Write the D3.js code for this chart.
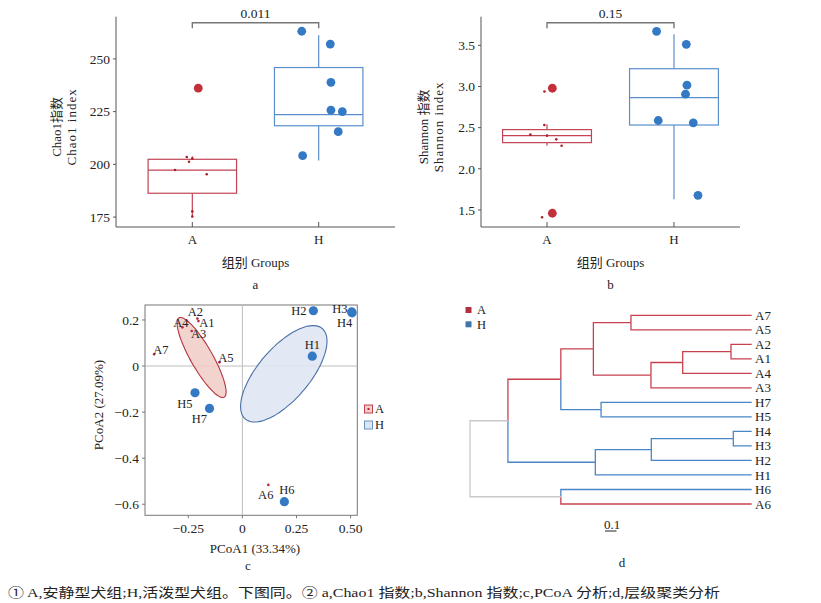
<!DOCTYPE html>
<html>
<head>
<meta charset="utf-8">
<script src="https://d3js.org/d3.v7.min.js"></script>
<style>
  body { margin: 0; background: #fff; }
  text { font-family: "Liberation Serif", "Noto Sans CJK SC", serif; fill: #222; }
</style>
</head>
<body>
<div id="chart"></div>
<script>
// ---- data ----
const groups = ["A", "H"];

// a: Chao1
const chaoQ1 = [186.3, 218.3];
const chaoMed = [197.3, 223.6];
const chaoQ3 = [202.4, 245.9];
const chaoLo = [175.0, 201.8];
const chaoHi = [203.9, 261.2];
const chaoSmallA = [203.5, 201.2, 202.7, 197.3, 195.3, 177.7, 175.3];
const chaoSmallAJit = [-0.044, -0.026, 0, -0.137, 0.114, 0, 0];
const chaoBigA = [236.1];
const chaoBigAJit = [0.047];
const chaoH = [263.1, 257.0, 238.9, 225.7, 225.0, 215.5, 204.1];
const chaoHJit = [-0.134, 0.092, 0.097, 0.097, 0.187, 0.155, -0.127];
const chaoTicks = [175, 200, 225, 250];

// b: Shannon
const shanQ1 = [2.318, 2.532];
const shanMed = [2.403, 2.864];
const shanQ3 = [2.476, 3.216];
const shanLo = [2.28, 1.63];
const shanHi = [2.54, 3.634];
const shanSmallA = [2.532, 2.415, 2.403, 2.358, 2.28, 1.411, 2.94];
const shanSmallAJit = [-0.021, -0.131, 0, 0.073, 0.115, -0.039, -0.02];
const shanBigA = [2.979, 1.46];
const shanBigAJit = [0.042, 0.042];
const shanH = [3.67, 3.512, 3.016, 2.907, 2.587, 2.559, 1.678];
const shanHJit = [-0.137, 0.097, 0.102, 0.091, -0.124, 0.152, 0.189];
const shanTicks = [1.5, 2.0, 2.5, 3.0, 3.5];

// c: PCoA
const pcoaNames = ["A1","A2","A3","A4","A5","A6","A7","H1","H2","H3","H4","H5","H6","H7"];
const pcoaX = [-0.203,-0.208,-0.234,-0.277,-0.106,0.120,-0.408,0.323,0.328,0.505,0.507,-0.219,0.194,-0.152];
const pcoaY = [0.195,0.206,0.152,0.168,0.016,-0.516,0.051,0.043,0.240,0.235,0.231,-0.116,-0.589,-0.184];
const pcoaXTicks = [-0.25, 0, 0.25, 0.5];
const pcoaXTickLabels = ["\u22120.25", "0", "0.25", "0.50"];
const pcoaYTicks = [0.2, 0, -0.2, -0.4, -0.6];
const pcoaYTickLabels = ["0.2", "0", "\u22120.2", "\u22120.4", "\u22120.6"];
// confidence ellipses: centre x, centre y, semi-major, semi-minor, angle (data units / degrees)
const ellA = [-0.1885, 0.0369, 0.2013, 0.050, -58.6];
const ellH = [0.1913, -0.0338, 0.265, 0.116, 47.0];

// d: hierarchical clustering
const dendLeaves = ["A7","A5","A2","A1","A4","A3","H7","H5","H4","H3","H2","H1","H6","A6"];
const dendMerges = [
  ["n1", "A2", "A1", 0.18],
  ["n2", "n1", "A4", 0.60],
  ["n3", "n2", "A3", 0.876],
  ["n4", "A7", "A5", 1.05],
  ["n5", "n4", "n3", 1.377],
  ["n6", "H7", "H5", 1.31],
  ["n7", "n5", "n6", 1.66],
  ["n8", "H4", "H3", 0.16],
  ["n9", "n8", "H2", 0.873],
  ["n10", "n9", "H1", 1.36],
  ["n11", "n7", "n10", 2.12],
  ["n12", "H6", "A6", 1.66],
  ["root", "n11", "n12", 2.45]
];

const RED = "#c3303a", RED_BOX = "#c24454", BLUE = "#3479c4", BLUE_BOX = "#5a8fcc";
const GREY = "#555";
const FS = 13;

const svg = d3.select("#chart").append("svg")
  .attr("width", 821).attr("height", 603)
  .style("background", "#fff");

// ---- boxplot panel ----
function boxPanel(o) {
  const g = svg.append("g");
  const x = d3.scalePoint().domain(groups).range([o.left, o.right]).padding(o.pad);
  const y = d3.scaleLinear().domain(o.domain).range([o.bottom, o.top]);
  const step = x.step();
  const bw = step * 0.7;
  const cols = [RED_BOX, BLUE_BOX];

  // axes
  g.append("line").attr("x1", o.left).attr("x2", o.left).attr("y1", o.top).attr("y2", o.bottom)
    .attr("stroke", GREY);
  g.append("line").attr("x1", o.left).attr("x2", o.right).attr("y1", o.bottom).attr("y2", o.bottom)
    .attr("stroke", GREY);
  o.ticks.forEach(t => {
    g.append("line").attr("x1", o.left - 3).attr("x2", o.left).attr("y1", y(t)).attr("y2", y(t)).attr("stroke", GREY);
    g.append("text").attr("x", o.left - 6).attr("y", y(t)).attr("dy", "0.35em")
      .attr("text-anchor", "end").attr("font-size", 13.5).text(o.fmt(t));
  });
  groups.forEach(k => {
    g.append("line").attr("x1", x(k)).attr("x2", x(k)).attr("y1", o.bottom - 5).attr("y2", o.bottom).attr("stroke", GREY);
    g.append("text").attr("x", x(k)).attr("y", o.bottom + 17).attr("text-anchor", "middle")
      .attr("font-size", FS).text(k);
  });

  // boxes
  groups.forEach((k, i) => {
    const cx = x(k);
    g.append("line").attr("x1", cx).attr("x2", cx).attr("y1", y(o.hi[i])).attr("y2", y(o.q3[i]))
      .attr("stroke", cols[i]).attr("stroke-width", 1.2);
    g.append("line").attr("x1", cx).attr("x2", cx).attr("y1", y(o.q1[i])).attr("y2", y(o.lo[i]))
      .attr("stroke", cols[i]).attr("stroke-width", 1.2);
    g.append("rect").attr("x", cx - bw / 2).attr("width", bw)
      .attr("y", y(o.q3[i])).attr("height", y(o.q1[i]) - y(o.q3[i]))
      .attr("fill", "none").attr("stroke", cols[i]).attr("stroke-width", 1.2);
    g.append("line").attr("x1", cx - bw / 2).attr("x2", cx + bw / 2).attr("y1", y(o.med[i])).attr("y2", y(o.med[i]))
      .attr("stroke", cols[i]).attr("stroke-width", 1.2);
  });

  // points
  g.selectAll(null).data(o.smallA).join("circle")
    .attr("cx", (d, i) => x("A") + o.smallAJit[i] * step).attr("cy", d => y(d))
    .attr("r", 1.3).attr("fill", "#a8202c");
  g.selectAll(null).data(o.bigA).join("circle")
    .attr("cx", (d, i) => x("A") + o.bigAJit[i] * step).attr("cy", d => y(d))
    .attr("r", 4.4).attr("fill", RED);
  g.selectAll(null).data(o.h).join("circle")
    .attr("cx", (d, i) => x("H") + o.hJit[i] * step).attr("cy", d => y(d))
    .attr("r", 4.4).attr("fill", BLUE);

  // significance bracket
  const by = o.top + 6;
  g.append("path")
    .attr("d", `M${x("A")},${by + 5.5}V${by}H${x("H")}V${by + 5.5}`)
    .attr("fill", "none").attr("stroke", "#777").attr("stroke-width", 1.4);
  g.append("text").attr("x", (x("A") + x("H")) / 2).attr("y", by - 4.5).attr("text-anchor", "middle")
    .attr("font-size", 13.5).text(o.p);

  // titles
  const tx = o.ytx, ty = (o.top + o.bottom) / 2 + 5;
  g.append("text").attr("transform", `translate(${tx},${ty}) rotate(-90)`).attr("text-anchor", "middle")
    .attr("font-size", FS).text(o.ytitle[0]);
  g.append("text").attr("transform", `translate(${tx + 15},${ty}) rotate(-90)`).attr("text-anchor", "middle")
    .attr("font-size", FS).attr("letter-spacing", 1).text(o.ytitle[1]);
  const mid = (x("A") + x("H")) / 2;
  g.append("text").attr("x", mid).attr("y", o.bottom + 39.5).attr("text-anchor", "middle")
    .attr("font-size", FS).text("组别 Groups");
  g.append("text").attr("x", mid).attr("y", o.bottom + 61.5).attr("text-anchor", "middle")
    .attr("font-size", FS).text(o.letter);
}

boxPanel({
  left: 116, right: 395, top: 16.7, bottom: 227, pad: 0.604, ytx: 61,
  domain: [170.3, 270], ticks: chaoTicks, fmt: d3.format("d"),
  q1: chaoQ1, med: chaoMed, q3: chaoQ3, lo: chaoLo, hi: chaoHi,
  smallA: chaoSmallA, smallAJit: chaoSmallAJit, bigA: chaoBigA, bigAJit: chaoBigAJit,
  h: chaoH, hJit: chaoHJit, p: "0.011", ytitle: ["Chao1指数", "Chao1 index"], letter: "a"
});
boxPanel({
  left: 481, right: 740, top: 16.7, bottom: 227, pad: 0.52, ytx: 428,
  domain: [1.293, 3.848], ticks: shanTicks, fmt: d3.format(".1f"),
  q1: shanQ1, med: shanMed, q3: shanQ3, lo: shanLo, hi: shanHi,
  smallA: shanSmallA, smallAJit: shanSmallAJit, bigA: shanBigA, bigAJit: shanBigAJit,
  h: shanH, hJit: shanHJit, p: "0.15", ytitle: ["Shannon 指数", "Shannon index"], letter: "b"
});

// ---- PCoA panel ----
(function () {
  const g = svg.append("g");
  const L = 145, R = 357.3, T = 305, B = 515.3;
  const x = d3.scaleLinear().domain([-0.45, 0.531]).range([L, R]);
  const y = d3.scaleLinear().domain([-0.648, 0.265]).range([B, T]);

  g.append("rect").attr("x", L).attr("y", T).attr("width", R - L).attr("height", B - T)
    .attr("fill", "none").attr("stroke", "#777");
  g.append("line").attr("x1", x(0)).attr("x2", x(0)).attr("y1", T).attr("y2", B).attr("stroke", "#bdbdbd");
  g.append("line").attr("x1", L).attr("x2", R).attr("y1", y(0)).attr("y2", y(0)).attr("stroke", "#bdbdbd");

  pcoaXTicks.forEach((t, i) => {
    g.append("line").attr("x1", x(t)).attr("x2", x(t)).attr("y1", B).attr("y2", B + 3).attr("stroke", "#777");
    g.append("text").attr("x", x(t)).attr("y", B + 18).attr("text-anchor", "middle")
      .attr("font-size", 13.5).text(pcoaXTickLabels[i]);
  });
  pcoaYTicks.forEach((t, i) => {
    g.append("line").attr("x1", L - 3).attr("x2", L).attr("y1", y(t)).attr("y2", y(t)).attr("stroke", "#777");
    g.append("text").attr("x", L - 6).attr("y", y(t)).attr("dy", "0.35em").attr("text-anchor", "end")
      .attr("font-size", 13.5).text(pcoaYTickLabels[i]);
  });

  function ellipse(e) {
    const [cx, cy, a, b, ang] = e;
    const th = ang * Math.PI / 180;
    const pts = d3.range(0, 360, 4).map(deg => {
      const t = deg * Math.PI / 180;
      const ex = a * Math.cos(t), ey = b * Math.sin(t);
      return [x(cx + ex * Math.cos(th) - ey * Math.sin(th)), y(cy + ex * Math.sin(th) + ey * Math.cos(th))];
    });
    return d3.line().curve(d3.curveCardinalClosed)(pts);
  }
  g.append("path").attr("d", ellipse(ellA)).attr("fill", "#f0cbc6").attr("fill-opacity", 0.85)
    .attr("stroke", "#b53440").attr("stroke-width", 1.1);
  g.append("path").attr("d", ellipse(ellH)).attr("fill", "#dfe6f3").attr("fill-opacity", 0.9)
    .attr("stroke", "#4a72a8").attr("stroke-width", 1.1);

  const labelOff = {
    A1: [8.5, 1.5], A2: [-2, -7], A3: [7, 3], A4: [-1.5, -5], A5: [6.4, -4.6], A6: [-2.6, 9.3], A7: [6.7, -4.3],
    H1: [0, -12], H2: [-14.6, 0], H3: [-11.7, -3], H4: [-7.4, 9.4], H5: [-10, 10.6], H6: [2.4, -12.4], H7: [-10, 10]
  };
  pcoaNames.forEach((n, i) => {
    const isA = n[0] === "A";
    g.append("circle").attr("cx", x(pcoaX[i])).attr("cy", y(pcoaY[i]))
      .attr("r", isA ? 1.3 : 4.6).attr("fill", isA ? "#b8283a" : BLUE);
  });
  pcoaNames.forEach((n, i) => {
    const o = labelOff[n];
    g.append("text").attr("x", x(pcoaX[i]) + o[0]).attr("y", y(pcoaY[i]) + o[1]).attr("dy", "0.35em")
      .attr("text-anchor", "middle").attr("font-size", 12.5).text(n);
  });

  // legend
  [["A", "#f2cfca", "#c0404c", true], ["H", "#dbe6f5", "#6b93c4", false]].forEach((d, i) => {
    const ly = 409 + i * 16;
    g.append("rect").attr("x", 364.5).attr("y", ly - 4).attr("width", 8).attr("height", 8)
      .attr("fill", d[1]).attr("stroke", d[2]);
    if (d[3]) g.append("rect").attr("x", 367.5).attr("y", ly - 1).attr("width", 2).attr("height", 2).attr("fill", "#b8283a");
    g.append("text").attr("x", 375).attr("y", ly).attr("dy", "0.35em").attr("font-size", 12.5).text(d[0]);
  });

  g.append("text").attr("x", 255).attr("y", 552.5).attr("text-anchor", "middle").attr("font-size", FS)
    .text("PCoA1 (33.34%)");
  g.append("text").attr("transform", `translate(103,405) rotate(-90)`).attr("text-anchor", "middle")
    .attr("font-size", FS).text("PCoA2 (27.09%)");
  g.append("text").attr("x", 248).attr("y", 570).attr("text-anchor", "middle").attr("font-size", FS).text("c");
})();

// ---- dendrogram panel ----
(function () {
  const g = svg.append("g");
  const x = d3.scaleLinear().domain([0, 2.45]).range([751.7, 470]);
  const yl = d3.scalePoint().domain(dendLeaves).range([315.3, 504]);
  const nodes = {};
  dendLeaves.forEach(n => { nodes[n] = { id: n, h: 0, y: yl(n), leaves: [n] }; });
  dendMerges.forEach(([id, l, r, h]) => {
    const a = nodes[l], b = nodes[r];
    nodes[id] = { id, h, y: (a.y + b.y) / 2, kids: [a, b], leaves: a.leaves.concat(b.leaves) };
  });
  function colorOf(n) {
    const na = n.leaves.filter(s => s[0] === "A").length, nh = n.leaves.length - na;
    return na > nh ? "#c8404f" : nh > na ? "#4a86c6" : "#c8c8c8";
  }
  dendMerges.forEach(([id]) => {
    const p = nodes[id];
    p.kids.forEach(c => {
      g.append("path").attr("d", `M${x(p.h)},${p.y}V${c.y}H${x(c.h)}`)
        .attr("fill", "none").attr("stroke", colorOf(c)).attr("stroke-width", 1.3);
    });
  });
  dendLeaves.forEach(n => {
    g.append("text").attr("x", 755).attr("y", yl(n)).attr("dy", "0.35em").attr("font-size", FS).text(n);
  });
  // legend
  [["A", "#b5303f"], ["H", "#3f77ad"]].forEach((d, i) => {
    const ly = 310 + i * 14.3;
    g.append("rect").attr("x", 465.5).attr("y", ly - 3).attr("width", 6).attr("height", 6).attr("fill", d[1]);
    g.append("text").attr("x", 477).attr("y", ly).attr("dy", "0.35em").attr("font-size", 12.5).text(d[0]);
  });
  // scale bar
  g.append("line").attr("x1", 605).attr("x2", 605 + (x(0) - x(0.1))).attr("y1", 531).attr("y2", 531)
    .attr("stroke", "#222");
  g.append("text").attr("x", 604).attr("y", 529).attr("font-size", FS).text("0.1");
  g.append("text").attr("x", 622).attr("y", 567).attr("text-anchor", "middle").attr("font-size", FS).text("d");
})();

// ---- footnote ----
svg.append("text").attr("x", 8).attr("y", 597).attr("font-size", 13)
  .attr("textLength", 712).attr("lengthAdjust", "spacingAndGlyphs")
  .text("① A,安静型犬组;H,活泼型犬组。下图同。② a,Chao1 指数;b,Shannon 指数;c,PCoA 分析;d,层级聚类分析");
</script>
</body>
</html>
